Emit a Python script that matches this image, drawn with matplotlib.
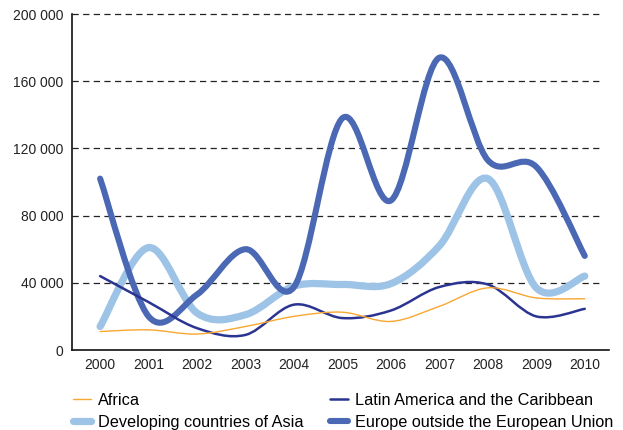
import numpy as np
import matplotlib.pyplot as plt
from matplotlib.path import Path
from matplotlib.patches import PathPatch
from matplotlib.lines import Line2D

plt.rcParams['font.family'] = ['Liberation Sans', 'DejaVu Sans']

years = [2000, 2001, 2002, 2003, 2004, 2005, 2006, 2007, 2008, 2009, 2010]
africa = [11000, 12000, 9500, 14000, 20000, 22500, 17000, 26000, 37000, 31000, 30500]
latin_america = [44000, 28500, 13000, 9000, 27000, 19000, 23500, 37500, 39000, 20000, 24500]
asia_developing = [14000, 61000, 22000, 21000, 38000, 39000, 39500, 62000, 102000, 37000, 44000]
europe_non_eu = [102000, 20000, 33000, 60000, 37500, 138000, 89000, 174000, 113000, 109000, 56000]

y_ticks = [0, 40000, 80000, 120000, 160000, 200000]
y_tick_labels = ['0', '40 000', '80 000', '120 000', '160 000', '200 000']


def smooth_path(xs, ys):
    """Cubic Bezier path through the points (Catmull-Rom style smoothing)."""
    pts = np.column_stack([xs, ys]).astype(float)
    n = len(pts)
    verts = [pts[0]]
    codes = [Path.MOVETO]
    for i in range(n - 1):
        p0 = pts[i - 1] if i > 0 else pts[i]
        p1 = pts[i]
        p2 = pts[i + 1]
        p3 = pts[i + 2] if i + 2 < n else pts[i + 1]
        c1 = p1 + (p2 - p0) / 6.0
        c2 = p2 - (p3 - p1) / 6.0
        verts += [c1, c2, p2]
        codes += [Path.CURVE4] * 3
    return Path(verts, codes)


fig = plt.figure(figsize=(6.23, 4.30), dpi=100)
ax = fig.add_axes([72 / 623, 1 - 350 / 430, (609 - 72) / 623, (350 - 14) / 430])

ax.set_xlim(1999.42, 2010.5)
ax.set_ylim(0, 200000)

# dashed gridlines
for t in y_ticks[1:]:
    ax.plot([1999.42, 2010.35], [t, t], color='#222222', lw=0.9,
            ls=(0, (5, 3.5)), zorder=1, clip_on=False)

series = [
    (asia_developing, '#9dc3e6', 5.2, 'Developing countries of Asia', 2),
    (europe_non_eu, '#4a68b3', 4.4, 'Europe outside the European Union', 3),
    (latin_america, '#2b3591', 1.8, 'Latin America and the Caribbean', 4),
    (africa, '#f8a731', 1.0, 'Africa', 5),
]
handles = {}
for vals, color, lw, label, z in series:
    patch = PathPatch(smooth_path(years, vals), facecolor='none', edgecolor=color,
                      lw=lw, capstyle='round', joinstyle='round', zorder=z)
    ax.add_patch(patch)
    handles[label] = Line2D([], [], color=color, lw=lw, solid_capstyle='round')

ax.set_xticks(years)
ax.set_xticklabels([str(y) for y in years])
ax.set_yticks(y_ticks)
ax.set_yticklabels(y_tick_labels)
ax.tick_params(length=0, labelsize=10, pad=6, colors='#222222')

for s in ['top', 'right']:
    ax.spines[s].set_visible(False)
for s in ['left', 'bottom']:
    ax.spines[s].set_color('#111111')
    ax.spines[s].set_linewidth(1.2)

order = ['Africa', 'Developing countries of Asia',
         'Latin America and the Caribbean', 'Europe outside the European Union']
fig.legend([handles[k] for k in order], order, ncol=2, frameon=False,
           loc='upper left', bbox_to_anchor=(73 / 623, 1 - 393 / 430),
           fontsize=11.7, handlelength=1.1, handletextpad=0.45,
           columnspacing=1.6, labelspacing=0.42, borderaxespad=0, borderpad=0)

fig.savefig('out.png', dpi=100)
